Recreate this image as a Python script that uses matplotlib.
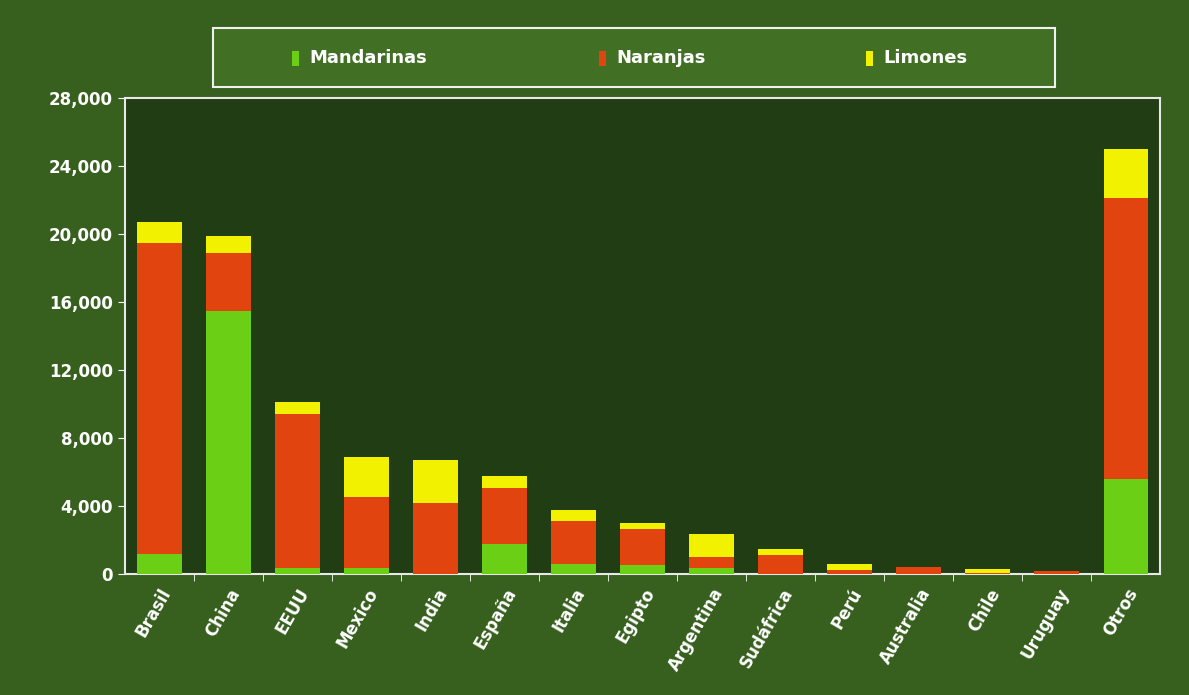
import numpy as np
import matplotlib.pyplot as plt
from matplotlib.patches import Rectangle

paises = ['Brasil', 'China', 'EEUU', 'Mexico', 'India', 'España', 'Italia', 'Egipto',
          'Argentina', 'Sudáfrica', 'Perú', 'Australia', 'Chile', 'Uruguay', 'Otros']
mandarinas = [1200, 15500, 350, 350, 0, 1750, 600, 550, 350, 0, 0, 0, 0, 0, 5600]
naranjas = [18300, 3400, 9050, 4200, 4200, 3300, 2500, 2100, 650, 1150, 250, 400, 50, 200, 16500]
limones = [1200, 1000, 700, 2350, 2500, 700, 650, 350, 1350, 350, 350, 0, 250, 0, 2900]
series = ['Mandarinas', 'Naranjas', 'Limones']

verde = '#6bd015'
rojo = '#e2440f'
amarillo = '#f2f200'
colores = [verde, rojo, amarillo]

W, H = 1189, 695
fig = plt.figure(figsize=(W / 100, H / 100), dpi=100, facecolor='#37601f')
ax = fig.add_axes([0.105, 0.174, 0.871, 0.685])
ax.set_facecolor('#213d14')

x = np.arange(len(paises))
m = np.array(mandarinas)
n = np.array(naranjas)
l = np.array(limones)
w = 0.65
ax.bar(x, m, w, color=verde, zorder=3)
ax.bar(x, n, w, bottom=m, color=rojo, zorder=3)
ax.bar(x, l, w, bottom=m + n, color=amarillo, zorder=3)

ax.set_xlim(-0.5, len(paises) - 0.5)
ax.set_ylim(0, 28000)
ax.set_yticks(np.arange(0, 28001, 4000))
ax.set_yticklabels([f'{v:,}' for v in range(0, 28001, 4000)])
ax.set_xticks(x)
ax.set_xticklabels(paises, rotation=60, ha='right', rotation_mode='anchor')
ax.set_xticks(np.arange(0.5, len(paises) - 1, 1), minor=True)
ax.tick_params(axis='x', which='major', length=0, pad=8)
ax.tick_params(axis='x', which='minor', length=5, color='white', direction='out')
ax.tick_params(axis='y', length=5, color='white')
for t in ax.get_xticklabels() + ax.get_yticklabels():
    t.set_color('white')
    t.set_fontweight('bold')
    t.set_fontsize(12)

for s in ax.spines.values():
    s.set_color('#e8e8e8')
    s.set_linewidth(1.5)

# leyenda dibujada a mano (caja + marcadores + textos)
fig.patches.append(Rectangle((213 / W, 1 - 87 / H), 842 / W, 59 / H,
                             transform=fig.transFigure, facecolor='#416f24',
                             edgecolor='#f0f0f0', linewidth=1.5))
marcas_x = [292, 599, 866]
for mx, nombre, c in zip(marcas_x, series, colores):
    fig.patches.append(Rectangle((mx / W, 1 - 66 / H), 7 / W, 15 / H,
                                 transform=fig.transFigure, facecolor=c, edgecolor='none'))
    fig.text((mx + 17) / W, 1 - 58 / H, nombre, color='white', fontweight='bold',
             fontsize=13, va='center', ha='left')

plt.savefig('out.png', facecolor=fig.get_facecolor())
